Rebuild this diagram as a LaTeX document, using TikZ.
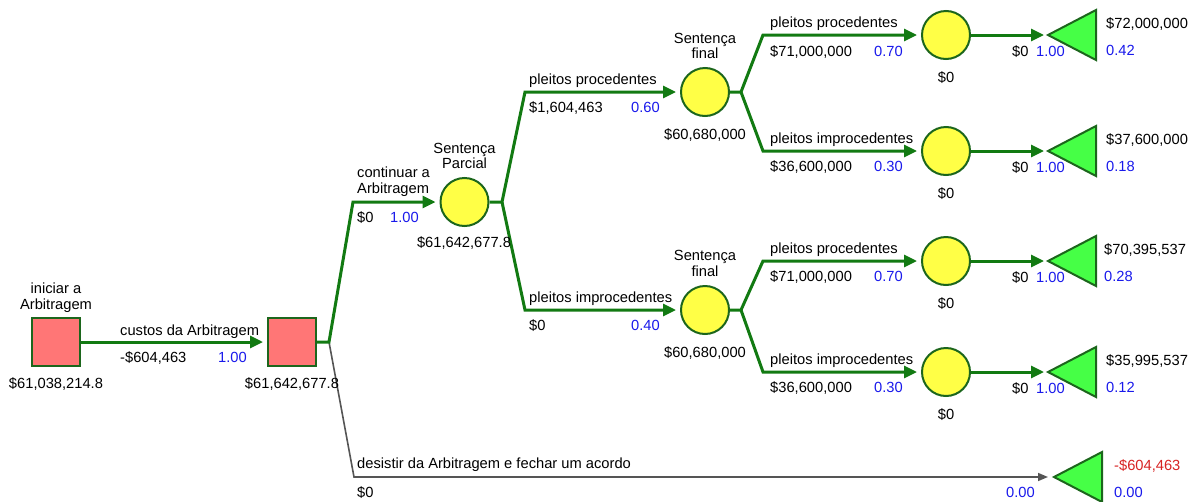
\documentclass[tikz,border=0pt]{standalone}
\usepackage{fontspec}
\setmainfont{Liberation Sans}
\usetikzlibrary{arrows.meta}
\definecolor{arcgreen}{RGB}{18,122,18}
\definecolor{rimgreen}{RGB}{28,102,28}
\definecolor{boxred}{RGB}{255,118,118}
\definecolor{chanceyellow}{RGB}{255,255,70}
\definecolor{leafgreen}{RGB}{70,255,70}
\definecolor{probblue}{RGB}{25,25,235}
\definecolor{lossred}{RGB}{215,35,35}
\definecolor{quitgray}{RGB}{85,85,85}
\begin{document}
\begin{tikzpicture}[x=1pt,y=-1pt,
  dec/.style={rectangle, draw=rimgreen, line width=2pt, fill=boxred, minimum size=48pt, inner sep=0},
  chance/.style={circle, draw=rimgreen, line width=2pt, fill=chanceyellow, minimum size=48pt, inner sep=0},
  leaf/.style={draw=rimgreen, line width=2pt, fill=leafgreen},
  arc/.style={draw=arcgreen, line width=3pt, -{Triangle[length=13pt,width=12pt]}, shorten >=4pt},
  quit/.style={draw=quitgray, line width=1.6pt, -{Triangle[length=10pt,width=8pt]}, shorten >=6pt},
  txt/.style={inner sep=0, font=\fontsize{14.7}{15.5}\selectfont},
  prob/.style={txt, text=probblue}]
\useasboundingbox (0,0) rectangle (1191,501);
% decision nodes
\node[dec] (sq0) at (56,342){};
\node[dec] (sq1) at (292,342){};
% chance nodes
\node[chance] (ch0) at (464.5,202){};
\node[chance] (ch1) at (705,92){};
\node[chance] (ch2) at (705,310){};
\node[chance] (ch3) at (946,35){};
\node[chance] (ch4) at (946,151){};
\node[chance] (ch5) at (946,261){};
\node[chance] (ch6) at (946,372){};
% fork and corner points
\coordinate (fk1) at (329,342);
\coordinate (cn1) at (353,202);
\coordinate (cn2) at (354,477);
\coordinate (fk2) at (502,202);
\coordinate (cn3) at (525,92);
\coordinate (cn4) at (525,310);
\coordinate (fk3) at (741,92);
\coordinate (cn5) at (763,35);
\coordinate (cn6) at (763,151);
\coordinate (fk4) at (741,310);
\coordinate (cn7) at (763,261);
\coordinate (cn8) at (763,372);
% end points
\coordinate (tip1) at (1048,35);
\coordinate (tip2) at (1048,151);
\coordinate (tip3) at (1048,261);
\coordinate (tip4) at (1048,372);
\coordinate (tip5) at (1054,477);
\draw[leaf] (tip1) -- ++(48,-25) -- ++(0,50) -- cycle;
\draw[leaf] (tip2) -- ++(48,-25) -- ++(0,50) -- cycle;
\draw[leaf] (tip3) -- ++(48,-25) -- ++(0,50) -- cycle;
\draw[leaf] (tip4) -- ++(48,-25) -- ++(0,50) -- cycle;
\draw[leaf] (tip5) -- ++(48,-25) -- ++(0,50) -- cycle;
% connectors
\draw[quit] (fk1) -- (cn2) -- (tip5);
\draw[arc] (sq0) -- (sq1);
\draw[arc] (sq1.east) -- (fk1) -- (cn1) -- (ch0);
\draw[arc] (ch0.east) -- (fk2) -- (cn3) -- (ch1);
\draw[arc] (fk2) -- (cn4) -- (ch2);
\draw[arc] (ch1.east) -- (fk3) -- (cn5) -- (ch3);
\draw[arc] (fk3) -- (cn6) -- (ch4);
\draw[arc] (ch2.east) -- (fk4) -- (cn7) -- (ch5);
\draw[arc] (fk4) -- (cn8) -- (ch6);
\draw[arc] (ch3) -- (tip1);
\draw[arc] (ch4) -- (tip2);
\draw[arc] (ch5) -- (tip3);
\draw[arc] (ch6) -- (tip4);
% node labels
\node[txt, align=center, anchor=south] (nm0) at (56,312.3){iniciar a\\Arbitragem};
\node[txt, anchor=base] (ev0) at (56,388){\$61,038,214.8};
\node[txt, anchor=base] (ev1) at (292,388){\$61,642,677.8};
\node[txt, align=center, anchor=south] (nm1) at (464.5,169){Sentença\\Parcial};
\node[txt, anchor=base] (ev2) at (464,247){\$61,642,677.8};
\node[txt, align=center, anchor=south] (nm2) at (705,59){Sentença\\final};
\node[txt, anchor=base] (ev3) at (705,139){\$60,680,000};
\node[txt, align=center, anchor=south] (nm3) at (705,276.5){Sentença\\final};
\node[txt, anchor=base] (ev4) at (705,357){\$60,680,000};
\node[txt, anchor=base] (ev5) at (946,82){\$0};
\node[txt, anchor=base] (ev6) at (946,198){\$0};
\node[txt, anchor=base] (ev7) at (946,308){\$0};
\node[txt, anchor=base] (ev8) at (946,419){\$0};
% branch labels
\node[txt, anchor=base west] (br1) at (120,335){custos da Arbitragem};
\node[txt, anchor=base west] (vl1) at (120,362){-\$604,463};
\node[prob, anchor=base east] (pr1) at (247,362){1.00};
\node[txt, align=left, anchor=south west] (br2) at (357,196.3){continuar a\\Arbitragem};
\node[txt, anchor=base west] (vl2) at (357,222){\$0};
\node[prob, anchor=base east] (pr2) at (419,222){1.00};
\node[txt, anchor=base west] (br3) at (529,84){pleitos procedentes};
\node[txt, anchor=base west] (vl3) at (529,112){\$1,604,463};
\node[prob, anchor=base east] (pr3) at (660,112){0.60};
\node[txt, anchor=base west] (br4) at (529,302){pleitos improcedentes};
\node[txt, anchor=base west] (vl4) at (529,330){\$0};
\node[prob, anchor=base east] (pr4) at (660,330){0.40};
\node[txt, anchor=base west] (br5) at (770,27){pleitos procedentes};
\node[txt, anchor=base west] (vl5) at (770,56){\$71,000,000};
\node[prob, anchor=base east] (pr5) at (903,56){0.70};
\node[txt, anchor=base west] (br6) at (770,143){pleitos improcedentes};
\node[txt, anchor=base west] (vl6) at (770,171){\$36,600,000};
\node[prob, anchor=base east] (pr6) at (903,171){0.30};
\node[txt, anchor=base west] (br7) at (770,253){pleitos procedentes};
\node[txt, anchor=base west] (vl7) at (770,281){\$71,000,000};
\node[prob, anchor=base east] (pr7) at (903,281){0.70};
\node[txt, anchor=base west] (br8) at (770,364){pleitos improcedentes};
\node[txt, anchor=base west] (vl8) at (770,392){\$36,600,000};
\node[prob, anchor=base east] (pr8) at (903,392){0.30};
\node[txt, anchor=base west] (br9) at (357,468){desistir da Arbitragem e fechar um acordo};
\node[txt, anchor=base west] (vl9) at (357,497){\$0};
\node[prob, anchor=base west] (pr9) at (1006,497){0.00};
% end branch labels
\node[txt, anchor=base west] (vt1) at (1012,56){\$0};
\node[prob, anchor=base west] (pt1) at (1036,56){1.00};
\node[txt, anchor=base west] (vt2) at (1012,172){\$0};
\node[prob, anchor=base west] (pt2) at (1036,172){1.00};
\node[txt, anchor=base west] (vt3) at (1012,282){\$0};
\node[prob, anchor=base west] (pt3) at (1036,282){1.00};
\node[txt, anchor=base west] (vt4) at (1012,393){\$0};
\node[prob, anchor=base west] (pt4) at (1036,393){1.00};
% payoffs
\node[txt, anchor=base west] (po1) at (1106,28){\$72,000,000};
\node[prob, anchor=base west] (pp1) at (1106,55){0.42};
\node[txt, anchor=base west] (po2) at (1106,144){\$37,600,000};
\node[prob, anchor=base west] (pp2) at (1106,171){0.18};
\node[txt, anchor=base west] (po3) at (1104,254){\$70,395,537};
\node[prob, anchor=base west] (pp3) at (1104,281){0.28};
\node[txt, anchor=base west] (po4) at (1106,365){\$35,995,537};
\node[prob, anchor=base west] (pp4) at (1106,392){0.12};
\node[txt, anchor=base west, text=lossred] (po5) at (1114,470){-\$604,463};
\node[prob, anchor=base west] (pp5) at (1114,497){0.00};
\end{tikzpicture}
\end{document}
